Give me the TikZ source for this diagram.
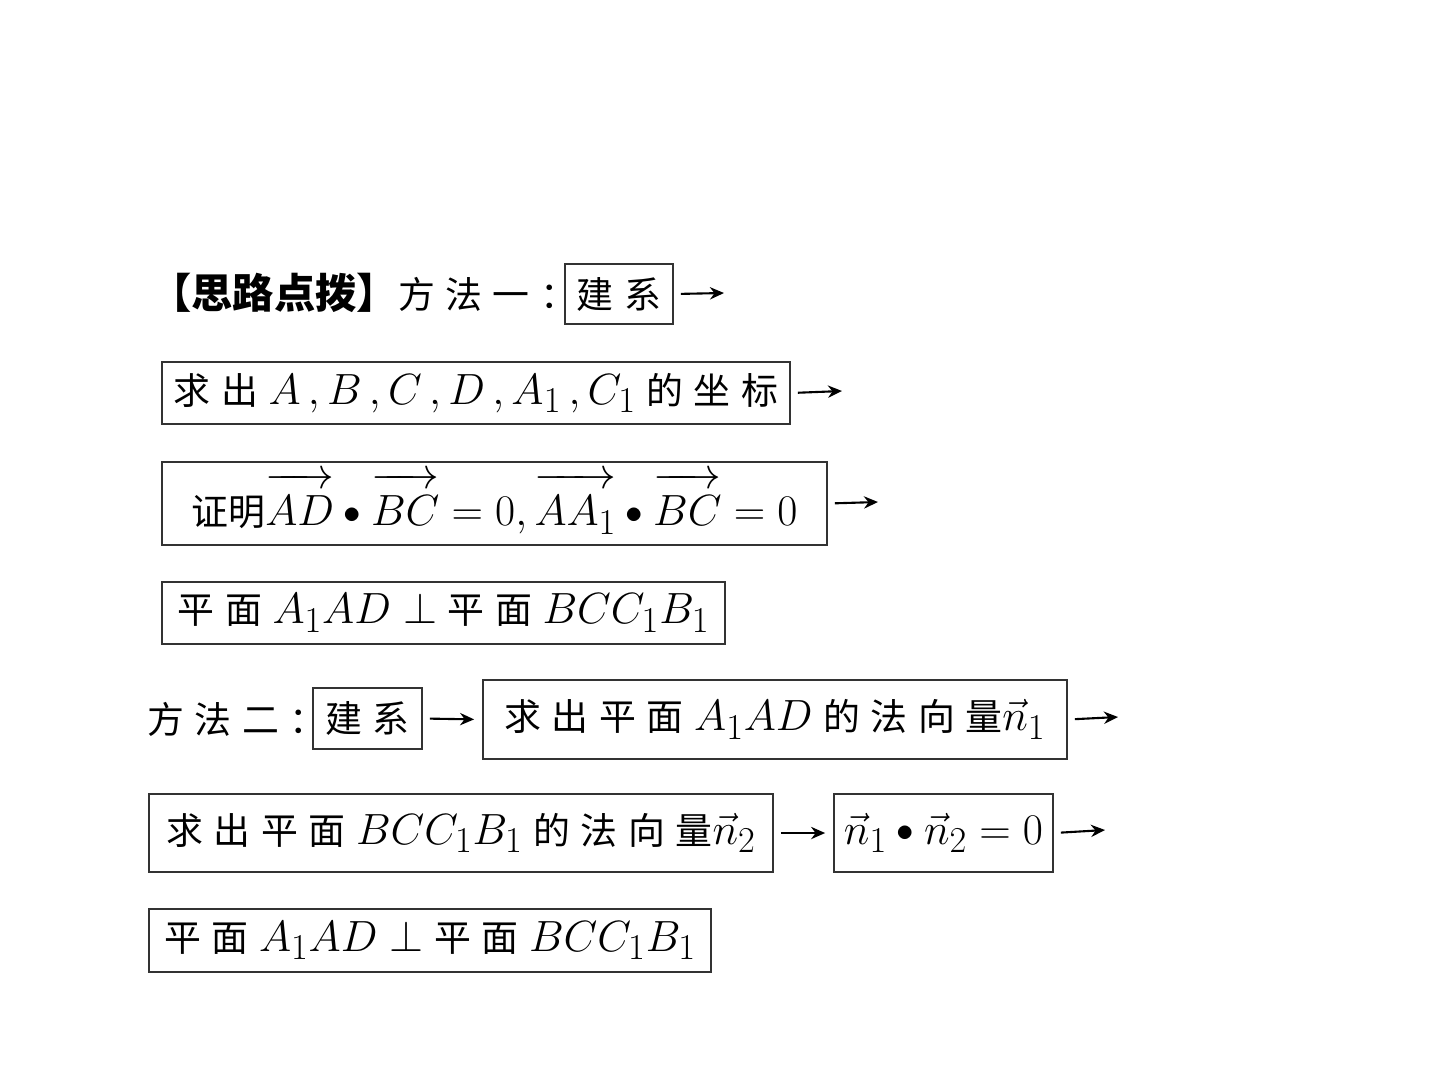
\documentclass[tikz,border=0pt]{standalone}
\usepackage{fontspec}
\newfontfamily\cjk{Noto Sans CJK SC}
\usetikzlibrary{arrows.meta}
\newcommand\gp{\hspace{6pt}}
\newcommand\mm[1]{{\fontsize{27.5}{30}\selectfont$#1$}}
\newcommand\bx[6]{\node[box,minimum width={(#4-#2)*0.02cm},minimum height={(#5-#3)*0.02cm}] (#1) at ({(#2+#4)/2},{(#3+#5)/2}) {#6};}
\newcommand\dotop{\mathbin{\raisebox{0.1ex}{\scalebox{0.8}{$\bullet$}}}}
\newcommand\ovec[1]{\overrightarrow{\rule{0pt}{0.8em}#1}}
\begin{document}
\begin{tikzpicture}[x=0.02cm,y=-0.02cm,
  box/.style={draw=black!80, line width=1pt, inner sep=0pt, font={\cjk\fontsize{21}{25}\selectfont}},
  txt/.style={inner sep=0pt, font={\cjk\fontsize{21}{25}\selectfont}},
  arr/.style={-{Stealth[length=8pt,width=7pt]}, line width=1.2pt, shorten <=0.14cm},
  arrn/.style={arr, shorten >=0.16cm}]
\useasboundingbox[fill=white] (0,0) rectangle (1440,1080);
% row 1
\node[txt,anchor=west] (t1) at (150,293) {{\bfseries\fontsize{23.5}{26}\selectfont 【思路点拨】}方\gp 法\gp 一\gp ：};
\bx{b1}{565}{264}{673}{324}{建\gp 系}
\coordinate (a1) at (724,293);
\draw[arr] (b1.east) -- (a1);
% row 2
\bx{b2}{162}{362}{790}{424}{求\gp 出\gp \mm{A\,,B\,,C\,,D\,,A_1\,,C_1}\gp 的\gp 坐\gp 标}
\coordinate (a2) at (842,391);
\draw[arr] (b2.east) -- (a2);
% row 3
\bx{b3}{162}{462}{827}{545}{证明\mm{\ovec{AD}\dotop\ovec{BC}=0,\ovec{AA_1}\dotop\ovec{BC}=0}}
\coordinate (a3) at (878,502);
\draw[arr] (b3.east) -- (a3);
% row 4
\bx{b4}{162}{582}{725}{644}{平\gp 面\gp \mm{A_1AD\perp}\gp 平\gp 面\gp \mm{BCC_1B_1}}
% row 5
\node[txt,anchor=west] (t5) at (147,719) {方\gp 法\gp 二\gp ：};
\bx{b5}{313}{688}{422}{749}{建\gp 系}
\bx{b6}{483}{680}{1067}{759}{求\gp 出\gp 平\gp 面\gp \mm{A_1AD}\gp 的\gp 法\gp 向\gp 量\mm{\vec{n}_1}}
\draw[arrn] (b5.east) -- (b6.west);
\coordinate (a6) at (1118,717);
\draw[arr] (b6.east) -- (a6);
% row 6
\bx{b7}{149}{794}{773}{872}{求\gp 出\gp 平\gp 面\gp \mm{BCC_1B_1}\gp 的\gp 法\gp 向\gp 量\mm{\vec{n}_2}}
\bx{b8}{834}{794}{1053}{872}{\mm{\vec{n}_1\dotop\vec{n}_2=0}}
\draw[arrn] (b7.east) -- (b8.west);
\coordinate (a8) at (1105,830);
\draw[arr] (b8.east) -- (a8);
% row 7
\bx{b9}{149}{909}{711}{972}{平\gp 面\gp \mm{A_1AD\perp}\gp 平\gp 面\gp \mm{BCC_1B_1}}
\end{tikzpicture}
\end{document}
